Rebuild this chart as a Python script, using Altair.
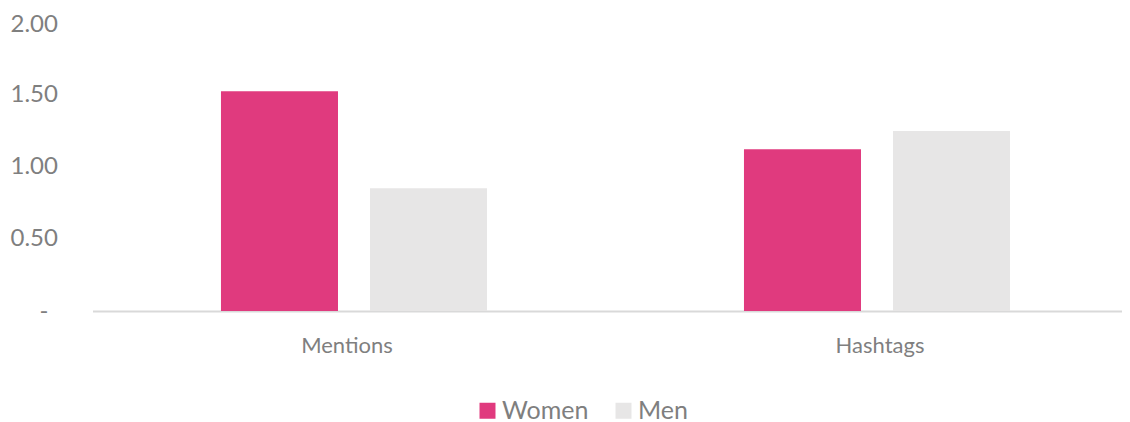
import altair as alt
import pandas as pd

categories = ["Mentions", "Hashtags"]
groups = ["Women", "Men"]
women = [1.52, 1.12]
men = [0.85, 1.245]
colors = ["#E03A7E", "#E7E6E6"]
y_ticks = [0, 0.5, 1.0, 1.5, 2.0]

rows = []
for i, c in enumerate(categories):
    rows.append({"category": c, "group": "Women", "value": women[i]})
    rows.append({"category": c, "group": "Men", "value": men[i]})
df = pd.DataFrame(rows)

FONT = "Lato"
GRAY = "#7F7F7F"

chart = alt.Chart(df).mark_bar().encode(
    x=alt.X("category:N", sort=categories,
            scale=alt.Scale(domain=categories, paddingInner=0, paddingOuter=0, range=[0, 1046]),
            axis=alt.Axis(title=None, labelAngle=0, ticks=False, domain=True,
                          domainColor="#D9D9D9", domainWidth=2,
                          labelFont=FONT, labelFontSize=22, labelColor=GRAY,
                          labelOffset={"condition": {"test": "datum.value == 'Mentions'", "value": -7},
                                       "value": 3},
                          labelBaseline="middle", labelPadding=34)),
    xOffset=alt.XOffset("group:N", sort=groups,
                        scale=alt.Scale(paddingInner=0.2148, paddingOuter=0.862)),
    y=alt.Y("value:Q", scale=alt.Scale(domain=[0, 2], nice=False, zero=True),
            axis=alt.Axis(title=None, values=y_ticks, format=".2f", grid=False,
                          domain=False, ticks=False,
                          labelExpr="datum.value == 0 ? '-' : datum.label",
                          labelAlign="left",
                          labelPadding={"condition": {"test": "datum.value == 0", "value": 53.5},
                                        "value": 82.5},
                          labelOffset={"condition": {"test": "datum.value == 2", "value": 2},
                                       "value": 0},
                          labelBaseline="middle",
                          labelFont=FONT, labelFontSize=24, labelColor=GRAY)),
    color=alt.Color("group:N", sort=groups,
                    scale=alt.Scale(domain=groups, range=colors),
                    legend=alt.Legend(title=None, orient="none", legendX=382.5, legendY=376,
                                      direction="horizontal", symbolType="square",
                                      symbolSize=256, symbolStrokeWidth=0,
                                      labelFont=FONT, labelFontSize=25, labelColor=GRAY,
                                      labelOffset=2, columnPadding=22, padding=0)),
).properties(
    width=1029.5, height=289,
    autosize=alt.AutoSizeParams(type="none"),
    padding={"left": 84.5, "top": 14, "right": 0, "bottom": 112},
).configure_view(stroke=None)

chart.save("out.html", embed_options={"renderer": "svg", "actions": False})
